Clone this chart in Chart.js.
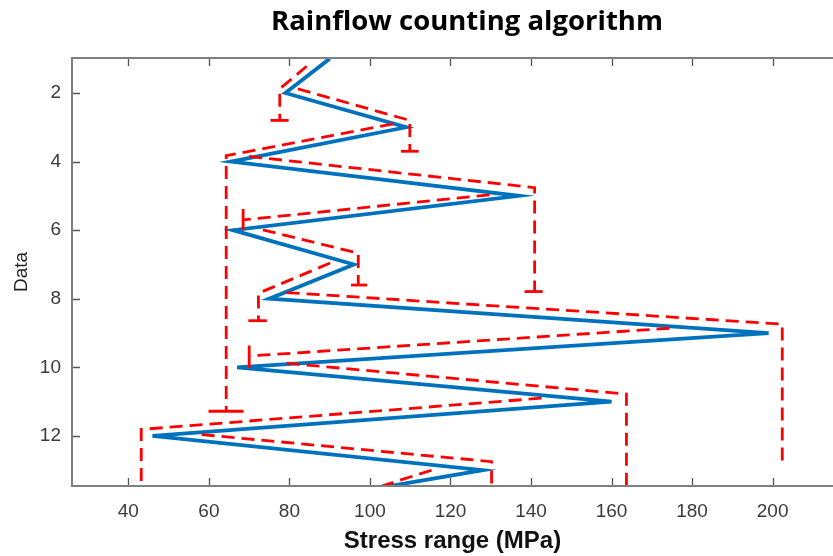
<!DOCTYPE html>
<html><head><meta charset="utf-8">
<script src="https://cdn.jsdelivr.net/npm/chart.js@4.4.0/dist/chart.umd.min.js"></script>
<style>html,body{margin:0;padding:0;background:#fff;overflow:hidden}canvas{display:block}</style>
</head><body>
<canvas id="c" width="833" height="556"></canvas>
<script>
const chartTitle = 'Rainflow counting algorithm';
const xAxisTitle = 'Stress range (MPa)';
const yAxisTitle = 'Data';

// signal
const dataIndex   = [1, 2, 3, 4, 5, 6, 7, 8, 9, 10, 11, 12, 13, 14];
const stressRange = [90, 79, 109, 65.5, 137, 66, 96, 75, 199, 67, 160, 46, 128, 78];

// ticks and limits
const stressTicks = [40, 60, 80, 100, 120, 140, 160, 180, 200];
const dataTicks   = [2, 4, 6, 8, 10, 12];
const stressLimits = [26, 215];
const dataLimits   = [0.98, 13.46];

// rainflow paths: [stress, data index]
const flowA = [[84.3, 1.22], [77.6, 1.88], [77.6, 2.8]];
const flowB = [[82.1, 1.88], [109.9, 2.8], [109.9, 3.7]];
const flowC = [[105.7, 2.9], [64.3, 3.83], [64.3, 11.28]];
const flowD = [[70, 3.85], [140.9, 4.76], [140.9, 7.79]];
const flowE = [[129.7, 4.97], [68.5, 5.7]];
const flowF = [[73.4, 5.99], [97.1, 6.67], [97.1, 7.6]];
const flowG = [[90.1, 6.96], [72.3, 7.84], [72.3, 8.64]];
const flowH = [[79.3, 7.82], [202.4, 8.74], [202.4, 12.85]];
const flowI = [[174.4, 8.86], [70, 9.67]];
const flowJ = [[79.3, 9.88], [163.7, 10.78], [163.7, 13.7]];
const flowK = [[142.6, 10.9], [43.2, 11.81], [43.2, 13.7]];
const flowL = [[58.2, 11.96], [130.2, 12.75], [130.2, 13.7]];
const flowM = [[115.3, 13.0], [100.5, 13.55]];

// end stops of the flows
const stopA = [[75.3, 2.8], [79.8, 2.8]];
const stopB = [[107.7, 3.7], [112.1, 3.7]];
const stopC = [[59.9, 11.28], [68.6, 11.28]];
const stopD = [[138.4, 7.79], [142.9, 7.79]];
const stopE = [[68.5, 5.38], [68.5, 5.99]];
const stopF = [[95.3, 7.6], [99.3, 7.6]];
const stopG = [[69.8, 8.64], [74.4, 8.64]];
const stopI = [[70, 9.36], [70, 10.03]];

const flows = [flowA, flowB, flowC, flowD, flowE, flowF, flowG, flowH, flowI, flowJ, flowK, flowL, flowM];
const stops = [stopA, stopB, stopC, stopD, stopE, stopF, stopG, stopI];

const RED = '#ff0000', BLUE = '#0072bd';
const toPts = arr => arr.map(p => ({x: p[0], y: p[1]}));

const datasets = [];
flows.forEach(f => datasets.push({
  data: toPts(f), borderColor: RED, borderWidth: 2.8, borderDash: [13, 7],
  pointRadius: 0, tension: 0, fill: false, order: 1
}));
stops.forEach(s => datasets.push({
  data: toPts(s), borderColor: RED, borderWidth: 2.8,
  pointRadius: 0, tension: 0, fill: false, order: 1
}));
datasets.push({
  data: dataIndex.map((d, i) => ({x: stressRange[i], y: d})),
  borderColor: BLUE, borderWidth: 3.8, pointRadius: 0, tension: 0, fill: false, order: 2
});

const framePlugin = {
  id: 'frame',
  afterDatasetsDraw(chart) {
    const {ctx, chartArea: a, scales: {x, y}} = chart;
    ctx.save();
    ctx.strokeStyle = '#555';
    ctx.lineWidth = 1.3;
    ctx.beginPath();
    stressTicks.forEach(v => {
      const px = Math.round(x.getPixelForValue(v)) + 0.5;
      ctx.moveTo(px, a.bottom); ctx.lineTo(px, a.bottom - 8);
      ctx.moveTo(px, a.top); ctx.lineTo(px, a.top + 8);
    });
    dataTicks.forEach(v => {
      const py = Math.round(y.getPixelForValue(v)) + 0.5;
      ctx.moveTo(a.left, py); ctx.lineTo(a.left + 8, py);
    });
    ctx.stroke();
    ctx.strokeStyle = '#808080';
    ctx.lineWidth = 2;
    ctx.beginPath();
    ctx.moveTo(a.right + 2, a.top);
    ctx.lineTo(a.left, a.top);
    ctx.lineTo(a.left, a.bottom);
    ctx.lineTo(a.right + 2, a.bottom);
    ctx.stroke();
    ctx.restore();
  }
};

const titlePlugin = {
  id: 'figTitle',
  afterDraw(chart) {
    const {ctx} = chart;
    ctx.save();
    ctx.font = 'bold 27.5px "Open Sans"';
    ctx.fillStyle = '#000';
    ctx.textAlign = 'center';
    ctx.textBaseline = 'middle';
    ctx.fillText(chartTitle, 467, 22);
    ctx.restore();
  }
};

new Chart(document.getElementById('c'), {
  type: 'line',
  data: {datasets},
  plugins: [framePlugin, titlePlugin],
  options: {
    responsive: false,
    animation: false,
    events: [],
    layout: {padding: {top: 58, left: 0, right: 0, bottom: 0}},
    plugins: {legend: {display: false}, tooltip: {enabled: false}, title: {display: false}},
    scales: {
      x: {
        type: 'linear', position: 'bottom',
        min: stressLimits[0], max: stressLimits[1],
        grid: {display: false, drawTicks: false}, border: {display: false},
        afterBuildTicks: s => { s.ticks = stressTicks.map(v => ({value: v})); },
        afterFit: s => { s.height = 70; },
        ticks: {autoSkip: false, maxRotation: 0, padding: 14, color: '#3a3a3a',
                font: {family: '"Liberation Sans", Arial, sans-serif', size: 19}},
        title: {display: true, text: xAxisTitle, color: '#111', padding: {top: 0, bottom: 0},
                font: {family: '"Liberation Sans", Arial, sans-serif', size: 24, weight: 'bold'}}
      },
      y: {
        type: 'linear', position: 'left', reverse: true,
        min: dataLimits[0], max: dataLimits[1],
        grid: {display: false, drawTicks: false}, border: {display: false},
        afterBuildTicks: s => { s.ticks = dataTicks.map(v => ({value: v})); },
        afterFit: s => { s.width = 72; },
        ticks: {autoSkip: false, padding: 11, color: '#3a3a3a',
                font: {family: '"Liberation Sans", Arial, sans-serif', size: 19}},
        title: {display: true, text: yAxisTitle, color: '#222', padding: {top: 10, bottom: 0},
                font: {family: '"Liberation Sans", Arial, sans-serif', size: 19}}
      }
    }
  }
});
</script>
</body></html>
